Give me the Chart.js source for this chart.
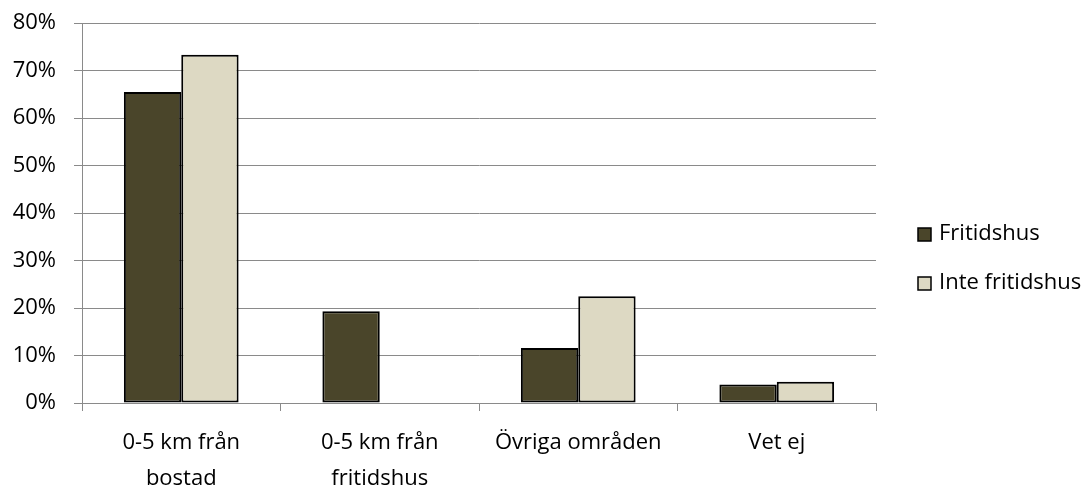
<!DOCTYPE html>
<html>
<head>
<meta charset="utf-8">
<script src="https://cdn.jsdelivr.net/npm/chart.js@4"></script>
<style>
html,body{margin:0;padding:0;background:#fff;}
#wrap{width:1090px;height:488px;position:relative;}
</style>
</head>
<body>
<div id="wrap"><canvas id="c" width="1090" height="488"></canvas></div>
<script>
const categories = [['0-5 km från', 'bostad'], ['0-5 km från', 'fritidshus'], 'Övriga områden', 'Vet ej'];
const seriesNames = ['Fritidshus', 'Inte fritidshus'];
const fritidshus = [65.5, 19.3, 11.6, 3.9];
const inteFritidshus = [73.3, 0, 22.5, 4.5];
const yTicks = [0, 10, 20, 30, 40, 50, 60, 70, 80];

const FONT = 'Open Sans';
const GRID = '#8a8a8a';

const legendPlugin = {
  id: 'customLegend',
  afterDraw(chart) {
    const ctx = chart.ctx;
    ctx.save();
    ctx.font = '22px "' + FONT + '"';
    ctx.textBaseline = 'middle';
    ctx.textAlign = 'left';
    const ys = [234, 283];
    chart.data.datasets.forEach((ds, i) => {
      const y = ys[i];
      ctx.fillStyle = ds.backgroundColor;
      ctx.fillRect(918, y - 6, 13, 13);
      ctx.strokeStyle = '#000';
      ctx.lineWidth = 1.5;
      ctx.strokeRect(918, y - 6, 13, 13);
      ctx.fillStyle = '#000';
      ctx.fillText(ds.label, 939, y);
    });
    ctx.restore();
  }
};

new Chart(document.getElementById('c'), {
  type: 'bar',
  data: {
    labels: categories,
    datasets: [
      { label: seriesNames[0], data: fritidshus, backgroundColor: '#4a452a', borderColor: '#000', borderWidth: 2, borderSkipped: false },
      { label: seriesNames[1], data: inteFritidshus, backgroundColor: '#ddd9c3', borderColor: '#000', borderWidth: 2, borderSkipped: false }
    ]
  },
  options: {
    responsive: false,
    animation: false,
    layout: { padding: { left: 0, top: 23, right: 214, bottom: 0 } },
    categoryPercentage: 0.578,
    barPercentage: 1,
    plugins: { legend: { display: false }, tooltip: { enabled: false } },
    scales: {
      x: {
        grid: { drawOnChartArea: false, drawTicks: true, tickLength: 8, color: GRID, offset: true },
        border: { color: GRID, width: 1 },
        ticks: { color: '#000', font: { family: FONT, size: 22, lineHeight: 1.636 }, padding: 14, maxRotation: 0, autoSkip: false },
        afterFit(s) { s.height = 85; s.paddingLeft = 0; s.paddingRight = 0; }
      },
      y: {
        min: 0, max: 80,
        afterBuildTicks(s) { s.ticks = yTicks.map(v => ({ value: v })); },
        grid: { color: GRID, lineWidth: 1, tickLength: 8, drawTicks: true },
        border: { color: GRID, width: 1 },
        ticks: { color: '#000', font: { family: FONT, size: 22 }, padding: 18, callback: v => v + '%' },
        afterFit(s) { s.width = 82; s.paddingTop = 0; s.paddingBottom = 0; }
      }
    }
  },
  plugins: [legendPlugin]
});
</script>
</body>
</html>
